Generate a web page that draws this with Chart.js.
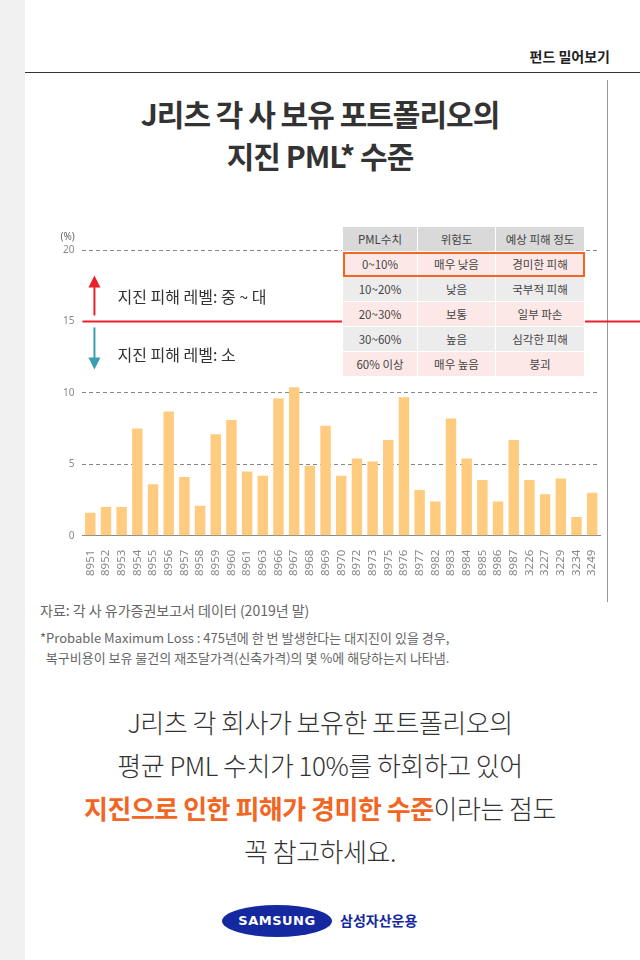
<!DOCTYPE html>
<html><head><meta charset="utf-8">
<script src="https://cdn.jsdelivr.net/npm/chart.js@4"></script>
<style>
body{margin:0;width:640px;height:960px;position:relative;background:#fff;font-family:"Noto Sans CJK KR","Noto Sans",sans-serif;overflow:hidden}
.strip{position:absolute;left:0;top:0;width:25px;height:960px;background:#f0f0f0}
.hdr{position:absolute;left:25px;right:0;top:0;height:72px;border-bottom:1px solid #333}
.hdr span{position:absolute;right:30px;top:46px;font-size:14px;font-weight:bold;color:#222}
.vline{position:absolute;left:607px;top:80px;width:1px;height:522px;background:#999}
.title{position:absolute;left:0;width:640px;top:92px;text-align:center;font-size:30px;font-weight:bold;color:#333;line-height:42px;letter-spacing:-1px}
#wrap{position:absolute;left:55px;top:230px;width:585px;height:352px}
table{position:absolute;left:342px;top:226px;border-collapse:collapse;font-size:11.5px;color:#444;background:#fff}
td{border:1px solid #fff;text-align:center;height:24px;padding:0}
tr.h td{background:#d9d9d9}
tr.p td{background:#fde8e8}
tr.g td{background:#ececec}
.note{position:absolute;left:40px;font-size:13px;color:#666}
.msg{position:absolute;left:25px;width:590px;top:700px;text-align:center;font-size:26px;font-weight:300;line-height:43px;color:#333;letter-spacing:-0.5px}
.msg b{color:#f26522;font-weight:bold}
</style></head><body>
<div class="strip"></div>
<div class="hdr"><span>펀드 밀어보기</span></div>
<div class="vline"></div>
<div class="title">J리츠 각 사 보유 포트폴리오의<br>지진 PML* 수준</div>
<div id="wrap"><canvas id="c"></canvas></div>
<table>
<tr class="h"><td style="width:74px">PML수치</td><td style="width:77px">위험도</td><td style="width:88px">예상 피해 정도</td></tr>
<tr class="p" style="outline:2px solid #f26522;outline-offset:-2px"><td>0~10%</td><td>매우 낮음</td><td>경미한 피해</td></tr>
<tr class="g"><td>10~20%</td><td>낮음</td><td>국부적 피해</td></tr>
<tr class="p"><td>20~30%</td><td>보통</td><td>일부 파손</td></tr>
<tr class="g"><td>30~60%</td><td>높음</td><td>심각한 피해</td></tr>
<tr class="p"><td>60% 이상</td><td>매우 높음</td><td>붕괴</td></tr>
</table>
<div class="note" style="top:600px;font-size:14px">자료: 각 사 유가증권보고서 데이터 (2019년 말)</div>
<div class="note" style="top:628px;line-height:20px">*Probable Maximum Loss : 475년에 한 번 발생한다는 대지진이 있을 경우,<br>&nbsp;&nbsp;복구비용이 보유 물건의 재조달가격(신축가격)의 몇 %에 해당하는지 나타냄.</div>
<div class="msg">J리츠 각 회사가 보유한 포트폴리오의<br>평균 PML 수치가 10%를 하회하고 있어<br><b>지진으로 인한 피해가 경미한 수준</b>이라는 점도<br>꼭 참고하세요.</div>
<div style="position:absolute;left:222px;top:905px;width:110px;height:32px;border-radius:50%;background:#1428a0;color:#fff;font:bold 13px 'DejaVu Sans';text-align:center;line-height:32px;letter-spacing:0.5px">SAMSUNG</div>
<div style="position:absolute;left:340px;top:910px;font-size:14px;font-weight:bold;color:#1428a0">삼성자산운용</div>
<script>
var codes = ['8951','8952','8953','8954','8955','8956','8957','8958','8959','8960','8961','8963','8966','8967','8968','8969','8970','8972','8973','8975','8976','8977','8982','8983','8984','8985','8986','8987','3226','3227','3229','3234','3249']
var pml = [1.6,2.0,2.0,7.5,3.6,8.7,4.1,2.1,7.1,8.1,4.5,4.2,9.6,10.4,4.9,7.7,4.2,5.4,5.2,6.7,9.7,3.2,2.4,8.2,5.4,3.9,2.4,6.7,3.9,2.9,4.0,1.3,3.0]
var yTicks = [0,5,10,15,20]
var redLevel = 15

var overlay = {
  id: 'overlay',
  afterDatasetsDraw: function (chart) {
    var ctx = chart.ctx, y = chart.scales.y, a = chart.chartArea
    var py = y.getPixelForValue(redLevel)
    ctx.save()
    ctx.strokeStyle = '#e8202a'; ctx.lineWidth = 2
    ctx.beginPath(); ctx.moveTo(a.left, py); ctx.lineTo(chart.width, py); ctx.stroke()
    ctx.strokeStyle = ctx.fillStyle = '#e8202a'
    ctx.beginPath(); ctx.moveTo(a.left + 12, py - 6); ctx.lineTo(a.left + 12, py - 36); ctx.stroke()
    ctx.beginPath(); ctx.moveTo(a.left + 6, py - 34); ctx.lineTo(a.left + 18, py - 34); ctx.lineTo(a.left + 12, py - 46); ctx.fill()
    ctx.strokeStyle = ctx.fillStyle = '#3a9db0'
    ctx.beginPath(); ctx.moveTo(a.left + 12, py + 6); ctx.lineTo(a.left + 12, py + 38); ctx.stroke()
    ctx.beginPath(); ctx.moveTo(a.left + 6, py + 36); ctx.lineTo(a.left + 18, py + 36); ctx.lineTo(a.left + 12, py + 48); ctx.fill()
    ctx.fillStyle = '#333'; ctx.font = '16px "Noto Sans CJK KR"'; ctx.textBaseline = 'middle'
    ctx.fillText('지진 피해 레벨: 중 ~ 대', a.left + 35, py - 25)
    ctx.fillText('지진 피해 레벨: 소', a.left + 35, py + 33)
    ctx.fillStyle = '#666'; ctx.font = '10px "Noto Sans"'
    ctx.fillText('(%)', a.left - 22, y.getPixelForValue(20) - 13)
    ctx.restore()
  }
}

new Chart(document.getElementById('c'), {
  type: 'bar',
  data: { labels: codes, datasets: [{ data: pml, backgroundColor: '#fecb7f', categoryPercentage: 0.7, barPercentage: 0.95 }] },
  options: {
    responsive: true, maintainAspectRatio: false, animation: false,
    layout: { padding: { left: 0, right: 40, top: 20 } },
    plugins: { legend: { display: false }, tooltip: { enabled: false } },
    scales: {
      x: {
        grid: { display: false }, border: { color: '#888' },
        ticks: { color: '#888', font: { size: 11.5, family: 'Noto Sans' }, padding: 6, maxRotation: 90, minRotation: 90, autoSkip: false }
      },
      y: {
        min: 0, max: 20, afterBuildTicks: function (s) { s.ticks = yTicks.map(function (v) { return { value: v } }) },
        grid: { color: function (c) { return c.tick.value === 0 || c.tick.value === 15 ? 'rgba(0,0,0,0)' : '#888' }, drawTicks: false },
        border: { display: false, dash: [4, 3] },
        ticks: { color: '#888', padding: 8, font: { size: 10, family: 'Noto Sans' } }
      }
    }
  },
  plugins: [overlay]
})
</script>
</body></html>
